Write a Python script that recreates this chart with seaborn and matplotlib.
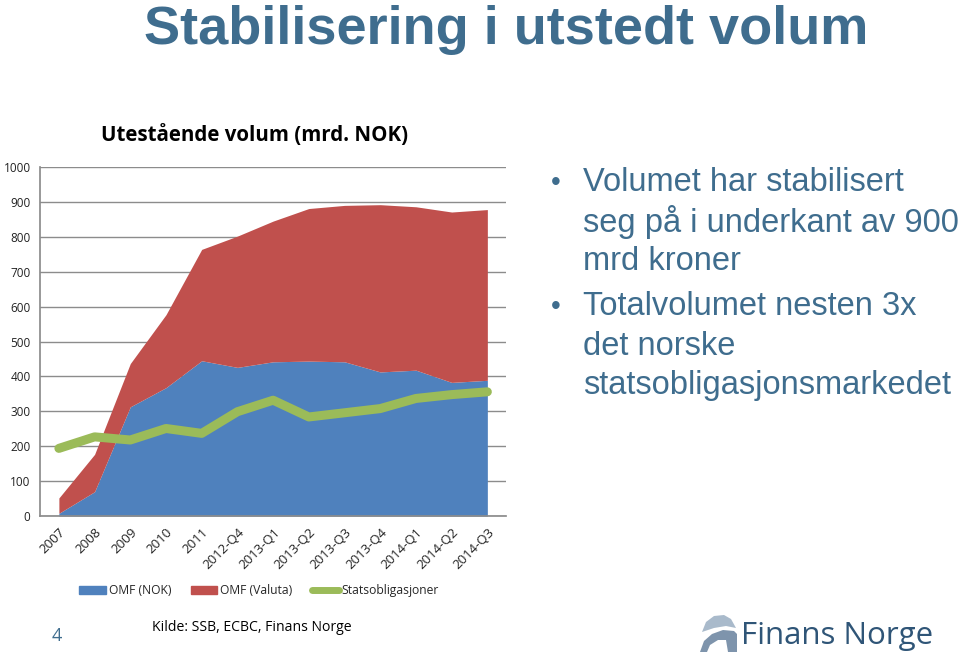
import matplotlib
matplotlib.use("Agg")
import matplotlib.pyplot as plt
import matplotlib.patches as mpatches
from matplotlib.lines import Line2D
import seaborn as sns
import numpy as np
import pandas as pd

# data (mrd. NOK)
kategorier = ["2007", "2008", "2009", "2010", "2011", "2012-Q4", "2013-Q1",
              "2013-Q2", "2013-Q3", "2013-Q4", "2014-Q1", "2014-Q2", "2014-Q3"]
omf_nok = [8, 70, 313, 368, 445, 426, 442, 444, 442, 413, 418, 383, 389]
omf_valuta = [44, 107, 124, 209, 319, 376, 403, 437, 448, 479, 468, 488, 489]
statsobligasjoner = [194, 227, 218, 251, 237, 299, 332, 284, 296, 308, 337, 348, 356]

df = pd.DataFrame({"periode": kategorier, "OMF (NOK)": omf_nok,
                   "OMF (Valuta)": omf_valuta, "Statsobligasjoner": statsobligasjoner})
df["x"] = np.arange(len(df))

BLA = "#4F81BD"
ROD = "#C0504D"
GRONN = "#9BBB59"
TEKST = "#3F6D8E"
ARIAL = ["Liberation Sans", "DejaVu Sans"]

sns.set_theme(style="white")
plt.rcParams["font.family"] = ["Open Sans", "DejaVu Sans"]

fig = plt.figure(figsize=(9.6, 6.6), dpi=100)
fig.patch.set_facecolor("white")
ax = fig.add_axes([0.042, 0.218, 0.485, 0.529])

# stacked areas
ax.fill_between(df["x"], 0, df["OMF (NOK)"], color=BLA, linewidth=0, zorder=2)
ax.fill_between(df["x"], df["OMF (NOK)"], df["OMF (NOK)"] + df["OMF (Valuta)"],
                color=ROD, linewidth=0, zorder=2)
sns.lineplot(data=df, x="x", y="Statsobligasjoner", ax=ax, color=GRONN,
             linewidth=6.5, solid_capstyle="round", zorder=3, legend=False)

ax.set_xlim(-0.52, 12.52)
ax.set_ylim(0, 1000)
ax.set_yticks(range(0, 1001, 100))
ax.yaxis.grid(True, color="#8C8C8C", linewidth=1)
ax.set_axisbelow(True)
for side in ["top", "right"]:
    ax.spines[side].set_visible(False)
ax.spines["left"].set_color("#8C8C8C")
ax.spines["bottom"].set_color("#8C8C8C")
ax.set_xticks(df["x"])
ax.set_xticklabels(kategorier, rotation=45, ha="right", rotation_mode="anchor",
                   fontsize=9.5, color="#222222")
ax.tick_params(axis="y", labelsize=8.5, pad=7, length=0, labelcolor="#222222")
ax.tick_params(axis="x", length=0, pad=7)
ax.set_xlabel("")
ax.set_ylabel("")

# titles
fig.text(0.527, 0.933, "Stabilisering i utstedt volum", ha="center", va="baseline",
         fontsize=39, fontweight="bold", color=TEKST, family=ARIAL)
fig.text(0.105, 0.795, "Utestående volum (mrd. NOK)", ha="left", va="center",
         fontsize=14.8, fontweight="bold", color="black")

# legend
handles = [mpatches.Patch(color=BLA, label="OMF (NOK)"),
           mpatches.Patch(color=ROD, label="OMF (Valuta)"),
           Line2D([0], [0], color=GRONN, linewidth=5, label="Statsobligasjoner")]
fig.legend(handles=handles, loc="center", bbox_to_anchor=(0.27, 0.105), ncol=3,
           frameon=False, fontsize=8.7, handlelength=2.2, handleheight=0.6,
           handletextpad=0.25, columnspacing=1.6)

# bullets
bullets = [
    (0.723, ["Volumet har stabilisert", "seg på i underkant av 900", "mrd kroner"]),
    (0.535, ["Totalvolumet nesten 3x", "det norske", "statsobligasjonsmarkedet"]),
]
for y0, lines in bullets:
    fig.text(0.574, y0, "•", ha="left", va="center", fontsize=20, color=TEKST,
             family=ARIAL)
    for i, line in enumerate(lines):
        fig.text(0.607, y0 - i * 0.0595, line, ha="left", va="center", fontsize=23.5,
                 color=TEKST, family=ARIAL)

# footer
fig.text(0.059, 0.036, "4", ha="center", va="center", fontsize=13, color=TEKST)
fig.text(0.158, 0.049, "Kilde: SSB, ECBC, Finans Norge", ha="left", va="center",
         fontsize=10.1, color="black")

# logo
fig.text(0.772, 0.036, "Finans Norge", ha="left", va="center", fontsize=22.5,
         color="#2F5577")


def px(pts):
    return [[x / 960, 1 - y / 660] for x, y in pts]


dome = mpatches.Polygon(px([(702, 632), (706, 622), (714, 616), (724, 615),
                            (731, 619), (736, 628), (726, 626), (714, 628)]),
                        closed=True, transform=fig.transFigure,
                        facecolor="#A9BACB", edgecolor="none")
kile = mpatches.Polygon(px([(700, 652), (704, 641), (712, 634), (723, 630),
                            (734, 631), (737, 634), (737, 652), (728, 652),
                            (726, 640), (718, 640), (710, 645), (707, 652)]),
                        closed=True, transform=fig.transFigure,
                        facecolor="#7E94AC", edgecolor="none")
fig.patches.extend([dome, kile])

fig.savefig("out.png", dpi=100, facecolor="white")
